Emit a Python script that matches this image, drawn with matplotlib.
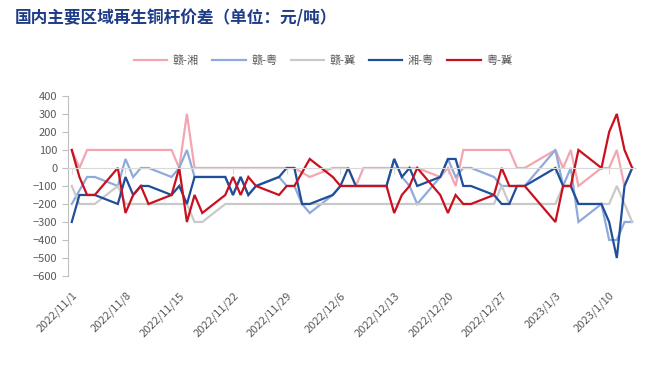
import pandas as pd
import matplotlib
matplotlib.use("Agg")
import matplotlib.pyplot as plt

plt.rcParams['font.family'] = ['Noto Sans CJK SC', 'DejaVu Sans']
plt.rcParams['axes.unicode_minus'] = True

# trading days
dates = ['2022-11-01', '2022-11-02', '2022-11-03', '2022-11-04', '2022-11-07', '2022-11-08',
         '2022-11-09', '2022-11-10', '2022-11-11', '2022-11-14', '2022-11-15', '2022-11-16',
         '2022-11-17', '2022-11-18', '2022-11-21', '2022-11-22', '2022-11-23', '2022-11-24',
         '2022-11-25', '2022-11-28', '2022-11-29', '2022-11-30', '2022-12-01', '2022-12-02',
         '2022-12-05', '2022-12-06', '2022-12-07', '2022-12-08', '2022-12-09', '2022-12-12',
         '2022-12-13', '2022-12-14', '2022-12-15', '2022-12-16', '2022-12-19', '2022-12-20',
         '2022-12-21', '2022-12-22', '2022-12-23', '2022-12-26', '2022-12-27', '2022-12-28',
         '2022-12-29', '2022-12-30', '2023-01-03', '2023-01-04', '2023-01-05', '2023-01-06',
         '2023-01-09', '2023-01-10', '2023-01-11', '2023-01-12', '2023-01-13']

gan_xiang = [100, 0, 100, 100, 100, 100, 100, 100, 100, 100, 0, 300,
             0, 0, 0, 0, 0, 0, 0, 0, 0, 0, -25, -50,
             0, 0, 0, -100, 0, 0, 0, 0, 0, 0, -50, 0,
             -100, 100, 100, 100, 100, 100, 0, 0, 100, 0, 100, -100,
             0, 0, 100, -100, 0]
gan_yue = [-200, -125, -50, -50, -100, 50, -50, 0, 0, -50, 0, 100,
           -50, -50, -50, -150, -50, -150, -100, -50, -100, -100, -200, -250,
           -150, -100, -100, -100, -100, -100, 50, -50, -100, -200, -50, 50,
           -50, 0, 0, -50, -100, -100, -100, -100, 100, -100, 0, -300,
           -200, -400, -400, -300, -300]
gan_ji = [-100, -200, -200, -200, -100, -200, -200, -200, -200, -200, -200, -200,
          -300, -300, -200, -200, -200, -200, -200, -200, -200, -200, -200, -200,
          -200, -200, -200, -200, -200, -200, -200, -200, -200, -200, -200, -200,
          -200, -200, -200, -200, -100, -200, -200, -200, -200, -100, -100, -200,
          -200, -200, -100, -200, -300]
xiang_yue = [-300, -150, -150, -150, -200, -50, -150, -100, -100, -150, -100, -200,
             -50, -50, -50, -150, -50, -150, -100, -50, 0, 0, -200, -200,
             -150, -100, 0, -100, -100, -100, 50, -50, 0, -100, -50, 50,
             50, -100, -100, -150, -200, -200, -100, -100, 0, -100, -100, -200,
             -200, -300, -500, -100, 0]
yue_ji = [100, -50, -150, -150, 0, -250, -150, -100, -200, -150, 0, -300,
          -150, -250, -150, -50, -150, -50, -100, -150, -100, -100, -25, 50,
          -50, -100, -100, -100, -100, -100, -250, -150, -100, 0, -150, -250,
          -150, -200, -200, -150, 0, -100, -100, -100, -300, -100, -100, 100,
          0, 200, 300, 100, 0]

names = ['赣-湘', '赣-粤', '赣-冀', '湘-粤', '粤-冀']
colors = ['#F4A6B0', '#8FAADC', '#C9C9C9', '#1F4E9B', '#C8101E']
series = [gan_xiang, gan_yue, gan_ji, xiang_yue, yue_ji]

x = pd.to_datetime(dates)

fig = plt.figure(figsize=(6.53, 3.69), dpi=100)
ax = fig.add_axes([0.104, 0.252, 0.870, 0.488])

for name, col, vals in zip(names, colors, series):
    ax.plot(x, vals, color=col, lw=1.6, label=name, solid_joinstyle='miter')

# x axis sits at zero, labels pushed down to the bottom
ax.spines['bottom'].set_position(('data', 0))
ax.spines['bottom'].set_color('#D9D9D9')
ax.spines['left'].set_color('#BFBFBF')
ax.spines['top'].set_visible(False)
ax.spines['right'].set_visible(False)

ax.set_ylim(-600, 400)
ax.set_yticks(range(-600, 401, 100))
ax.set_xlim(pd.Timestamp('2022-11-01') - pd.Timedelta(hours=12),
            pd.Timestamp('2023-01-13') + pd.Timedelta(hours=12))

ticks = pd.date_range('2022-11-01', '2023-01-10', freq='7D')
ax.set_xticks(ticks)
ax.set_xticklabels([f"{t.year}/{t.month}/{t.day}" for t in ticks])
ax.tick_params(axis='x', length=4, color='#D9D9D9', pad=84, labelsize=8,
               labelcolor='#595959', labelrotation=45)
for lab in ax.get_xticklabels():
    lab.set_ha('right')
    lab.set_rotation_mode('anchor')
ax.tick_params(axis='y', length=4, color='#BFBFBF', labelsize=8, labelcolor='#595959')

fig.text(0.023, 0.951, '国内主要区域再生铜杆价差（单位：元/吨）', fontsize=12,
         fontweight='bold', color='#1F3C88', va='center')

fig.legend(loc='center', bbox_to_anchor=(0.495, 0.836), ncol=5, frameon=False,
           fontsize=8, labelcolor='#595959', handlelength=3.0, handletextpad=0.5,
           columnspacing=1.2)

fig.savefig('out.png', dpi=100)
